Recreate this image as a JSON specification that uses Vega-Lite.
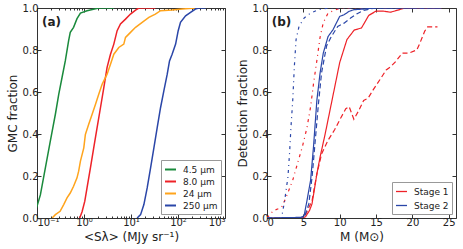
{
  "$schema": "https://vega.github.io/schema/vega-lite/v6.json",
  "padding": {"left": 5, "top": 2, "right": 5, "bottom": 2},
  "spacing": 42,
  "bounds": "flush",
  "resolve": {"scale": {"color": "independent", "strokeDash": "independent"}, "legend": {"color": "independent", "strokeDash": "independent"}},
  "config": {
    "font": "DejaVu Sans",
    "view": {"stroke": "#333", "strokeWidth": 1},
    "axis": {"domain": false, "grid": false, "tickColor": "#333", "tickSize": -4, "labelFontSize": 10, "labelColor": "#222", "titleFontSize": 12, "titleFontWeight": "normal", "titleColor": "#222", "labelPadding": 3},
    "legend": {"orient": "bottom-right", "offset": 4, "strokeColor": "#999", "fillColor": "white", "padding": 3, "symbolType": "stroke", "symbolSize": 121, "symbolStrokeWidth": 2, "labelFontSize": 9, "rowPadding": 0, "cornerRadius": 0, "labelColor": "#222", "labelOffset": 6},
    "text": {"font": "DejaVu Sans"}
  },
  "hconcat": [
    {
      "width": 188,
      "height": 210,
      "data": {"values": [
        {"b":"4.5 μm","s":0.09,"f":0.03},{"b":"4.5 μm","s":0.1,"f":0.056},{"b":"4.5 μm","s":0.118,"f":0.11},{"b":"4.5 μm","s":0.151,"f":0.24},{"b":"4.5 μm","s":0.192,"f":0.366},{"b":"4.5 μm","s":0.246,"f":0.494},{"b":"4.5 μm","s":0.29,"f":0.589},{"b":"4.5 μm","s":0.341,"f":0.669},{"b":"4.5 μm","s":0.40,"f":0.748},{"b":"4.5 μm","s":0.47,"f":0.844},{"b":"4.5 μm","s":0.51,"f":0.884},{"b":"4.5 μm","s":0.60,"f":0.908},{"b":"4.5 μm","s":0.71,"f":0.949},{"b":"4.5 μm","s":0.84,"f":0.976},{"b":"4.5 μm","s":1.16,"f":0.987},{"b":"4.5 μm","s":2.06,"f":1.0},{"b":"4.5 μm","s":4.3,"f":1.0},
        {"b":"8.0 μm","s":0.81,"f":0},{"b":"8.0 μm","s":0.91,"f":0.03},{"b":"8.0 μm","s":1.04,"f":0.08},{"b":"8.0 μm","s":1.16,"f":0.143},{"b":"8.0 μm","s":1.37,"f":0.239},{"b":"8.0 μm","s":1.61,"f":0.334},{"b":"8.0 μm","s":1.90,"f":0.43},{"b":"8.0 μm","s":2.24,"f":0.525},{"b":"8.0 μm","s":2.64,"f":0.621},{"b":"8.0 μm","s":3.10,"f":0.717},{"b":"8.0 μm","s":3.66,"f":0.78},{"b":"8.0 μm","s":4.31,"f":0.828},{"b":"8.0 μm","s":5.07,"f":0.892},{"b":"8.0 μm","s":5.97,"f":0.924},{"b":"8.0 μm","s":7.64,"f":0.947},{"b":"8.0 μm","s":9.76,"f":0.971},{"b":"8.0 μm","s":12.5,"f":0.99},{"b":"8.0 μm","s":14.7,"f":1.0},{"b":"8.0 μm","s":33,"f":1.0},
        {"b":"24 μm","s":0.21,"f":0},{"b":"24 μm","s":0.246,"f":0.016},{"b":"24 μm","s":0.31,"f":0.032},{"b":"24 μm","s":0.37,"f":0.064},{"b":"24 μm","s":0.435,"f":0.096},{"b":"24 μm","s":0.51,"f":0.119},{"b":"24 μm","s":0.60,"f":0.151},{"b":"24 μm","s":0.71,"f":0.191},{"b":"24 μm","s":0.77,"f":0.223},{"b":"24 μm","s":0.84,"f":0.271},{"b":"24 μm","s":0.99,"f":0.334},{"b":"24 μm","s":1.07,"f":0.398},{"b":"24 μm","s":1.26,"f":0.446},{"b":"24 μm","s":1.49,"f":0.494},{"b":"24 μm","s":1.75,"f":0.541},{"b":"24 μm","s":2.06,"f":0.589},{"b":"24 μm","s":2.43,"f":0.637},{"b":"24 μm","s":3.10,"f":0.685},{"b":"24 μm","s":3.66,"f":0.732},{"b":"24 μm","s":4.31,"f":0.78},{"b":"24 μm","s":5.5,"f":0.812},{"b":"24 μm","s":7.03,"f":0.828},{"b":"24 μm","s":7.64,"f":0.86},{"b":"24 μm","s":9.76,"f":0.884},{"b":"24 μm","s":12.5,"f":0.908},{"b":"24 μm","s":17.3,"f":0.932},{"b":"24 μm","s":24,"f":0.955},{"b":"24 μm","s":33,"f":0.971},{"b":"24 μm","s":42.5,"f":0.987},{"b":"24 μm","s":75,"f":0.99},{"b":"24 μm","s":123,"f":0.995},{"b":"24 μm","s":235,"f":1.0},
        {"b":"250 μm","s":13.5,"f":0},{"b":"250 μm","s":16,"f":0.016},{"b":"250 μm","s":18.8,"f":0.064},{"b":"250 μm","s":22.1,"f":0.143},{"b":"250 μm","s":26.1,"f":0.239},{"b":"250 μm","s":30.7,"f":0.334},{"b":"250 μm","s":36.1,"f":0.43},{"b":"250 μm","s":42.5,"f":0.525},{"b":"250 μm","s":50,"f":0.605},{"b":"250 μm","s":59,"f":0.685},{"b":"250 μm","s":66,"f":0.748},{"b":"250 μm","s":75,"f":0.78},{"b":"250 μm","s":89,"f":0.828},{"b":"250 μm","s":101,"f":0.892},{"b":"250 μm","s":113,"f":0.932},{"b":"250 μm","s":145,"f":0.963},{"b":"250 μm","s":185,"f":0.979},{"b":"250 μm","s":235,"f":0.995},{"b":"250 μm","s":278,"f":1.0},{"b":"250 μm","s":386,"f":1.0}
      ]},
      "layer": [
        {
          "mark": {"type": "line", "strokeWidth": 1.5, "clip": true},
          "encoding": {
            "x": {"field": "s", "type": "quantitative", "scale": {"type": "log", "domain": [0.1, 1000]},
              "axis": {"values": [0.1,0.2,0.3,0.4,0.5,0.6,0.7,0.8,0.9,1,2,3,4,5,6,7,8,9,10,20,30,40,50,60,70,80,90,100,200,300,400,500,600,700,800,900,1000],
                "labelExpr": "datum.value == 0.1 ? '10⁻¹' : datum.value == 1 ? '10⁰' : datum.value == 10 ? '10¹' : datum.value == 100 ? '10²' : datum.value == 1000 ? '10³' : ''",
                "tickSize": {"condition": {"test": "indexof([0.1,1,10,100,1000], datum.value) >= 0", "value": -4}, "value": -2},
                "title": "<Sλ> (MJy sr⁻¹)"}},
            "y": {"field": "f", "type": "quantitative", "scale": {"domain": [0, 1]},
              "axis": {"values": [0,0.2,0.4,0.6,0.8,1], "format": ".1f", "title": "GMC fraction", "titlePadding": 3}},
            "color": {"field": "b", "type": "nominal", "scale": {"domain": ["4.5 μm","8.0 μm","24 μm","250 μm"], "range": ["#1a8a3c","#ee2228","#ffa41c","#2a46a8"]}, "legend": {"title": null}}
          }
        },
        {
          "mark": {"type": "line", "opacity": 0},
          "encoding": {
            "x": {"field": "s", "type": "quantitative", "scale": {"type": "log", "domain": [0.1, 1000]},
              "axis": {"orient": "top", "labels": false, "title": null, "values": [0.1,0.2,0.3,0.4,0.5,0.6,0.7,0.8,0.9,1,2,3,4,5,6,7,8,9,10,20,30,40,50,60,70,80,90,100,200,300,400,500,600,700,800,900,1000],
                "tickSize": {"condition": {"test": "indexof([0.1,1,10,100,1000], datum.value) >= 0", "value": -4}, "value": -2}}},
            "y": {"field": "f", "type": "quantitative", "axis": {"orient": "right", "labels": false, "title": null, "values": [0,0.2,0.4,0.6,0.8,1]}}
          }
        },
        {
          "data": {"values": [{"lx": 0.128, "ly": 0.935, "t": "(a)"}]},
          "mark": {"type": "text", "fontWeight": "bold", "fontSize": 12, "align": "left", "baseline": "middle", "color": "#222"},
          "encoding": {
            "x": {"field": "lx", "type": "quantitative", "axis": null},
            "y": {"field": "ly", "type": "quantitative", "axis": null},
            "text": {"field": "t"}
          }
        }
      ],
      "resolve": {"axis": {"x": "independent", "y": "independent"}}
    },
    {
      "width": 189,
      "height": 210,
      "data": {"values": [
        {"g":"Stage 1","d":"solid","m":0,"f":0},{"g":"Stage 1","d":"solid","m":4.9,"f":0},{"g":"Stage 1","d":"solid","m":5.3,"f":0.006},{"g":"Stage 1","d":"solid","m":5.84,"f":0.035},{"g":"Stage 1","d":"solid","m":6.19,"f":0.067},{"g":"Stage 1","d":"solid","m":6.42,"f":0.115},{"g":"Stage 1","d":"solid","m":6.86,"f":0.21},{"g":"Stage 1","d":"solid","m":7.3,"f":0.29},{"g":"Stage 1","d":"solid","m":8,"f":0.40},{"g":"Stage 1","d":"solid","m":9,"f":0.57},{"g":"Stage 1","d":"solid","m":10,"f":0.74},{"g":"Stage 1","d":"solid","m":11,"f":0.85},{"g":"Stage 1","d":"solid","m":12,"f":0.895},{"g":"Stage 1","d":"solid","m":13,"f":0.905},{"g":"Stage 1","d":"solid","m":14,"f":0.965},{"g":"Stage 1","d":"solid","m":15,"f":0.985},{"g":"Stage 1","d":"solid","m":16,"f":0.985},{"g":"Stage 1","d":"solid","m":17,"f":0.98},{"g":"Stage 1","d":"solid","m":18,"f":0.99},{"g":"Stage 1","d":"solid","m":19,"f":1.0},{"g":"Stage 1","d":"solid","m":24,"f":1.0},
        {"g":"Stage 1","d":"dashed","m":0,"f":0},{"g":"Stage 1","d":"dashed","m":5.1,"f":0},{"g":"Stage 1","d":"dashed","m":6.2,"f":0.083},{"g":"Stage 1","d":"dashed","m":6.86,"f":0.21},{"g":"Stage 1","d":"dashed","m":7.52,"f":0.306},{"g":"Stage 1","d":"dashed","m":8.4,"f":0.37},{"g":"Stage 1","d":"dashed","m":9.3,"f":0.42},{"g":"Stage 1","d":"dashed","m":10.2,"f":0.48},{"g":"Stage 1","d":"dashed","m":10.84,"f":0.52},{"g":"Stage 1","d":"dashed","m":11.3,"f":0.53},{"g":"Stage 1","d":"dashed","m":11.95,"f":0.47},{"g":"Stage 1","d":"dashed","m":12.6,"f":0.51},{"g":"Stage 1","d":"dashed","m":13.3,"f":0.56},{"g":"Stage 1","d":"dashed","m":13.9,"f":0.57},{"g":"Stage 1","d":"dashed","m":14.6,"f":0.61},{"g":"Stage 1","d":"dashed","m":15.5,"f":0.657},{"g":"Stage 1","d":"dashed","m":16.4,"f":0.705},{"g":"Stage 1","d":"dashed","m":17,"f":0.72},{"g":"Stage 1","d":"dashed","m":17.7,"f":0.745},{"g":"Stage 1","d":"dashed","m":18.6,"f":0.785},{"g":"Stage 1","d":"dashed","m":19.5,"f":0.785},{"g":"Stage 1","d":"dashed","m":20.6,"f":0.80},{"g":"Stage 1","d":"dashed","m":21,"f":0.83},{"g":"Stage 1","d":"dashed","m":21.7,"f":0.89},{"g":"Stage 1","d":"dashed","m":22.1,"f":0.91},{"g":"Stage 1","d":"dashed","m":23.45,"f":0.91},
        {"g":"Stage 1","d":"dashdot","m":0,"f":0},{"g":"Stage 1","d":"dashdot","m":0.88,"f":0.035},{"g":"Stage 1","d":"dashdot","m":2,"f":0.05},{"g":"Stage 1","d":"dashdot","m":2.65,"f":0.1},{"g":"Stage 1","d":"dashdot","m":3.54,"f":0.18},{"g":"Stage 1","d":"dashdot","m":4.2,"f":0.26},{"g":"Stage 1","d":"dashdot","m":4.87,"f":0.34},{"g":"Stage 1","d":"dashdot","m":5.5,"f":0.43},{"g":"Stage 1","d":"dashdot","m":6,"f":0.53},{"g":"Stage 1","d":"dashdot","m":6.4,"f":0.64},{"g":"Stage 1","d":"dashdot","m":6.86,"f":0.75},{"g":"Stage 1","d":"dashdot","m":7.3,"f":0.86},{"g":"Stage 1","d":"dashdot","m":7.74,"f":0.93},{"g":"Stage 1","d":"dashdot","m":8.4,"f":0.976},{"g":"Stage 1","d":"dashdot","m":9.3,"f":0.99},{"g":"Stage 1","d":"dashdot","m":10.2,"f":1.0},{"g":"Stage 1","d":"dashdot","m":24,"f":1.0},
        {"g":"Stage 2","d":"solid","m":0,"f":0},{"g":"Stage 2","d":"solid","m":4.65,"f":0.003},{"g":"Stage 2","d":"solid","m":5.1,"f":0.01},{"g":"Stage 2","d":"solid","m":5.5,"f":0.083},{"g":"Stage 2","d":"solid","m":6,"f":0.18},{"g":"Stage 2","d":"solid","m":6.4,"f":0.34},{"g":"Stage 2","d":"solid","m":6.86,"f":0.56},{"g":"Stage 2","d":"solid","m":7.3,"f":0.69},{"g":"Stage 2","d":"solid","m":7.74,"f":0.785},{"g":"Stage 2","d":"solid","m":8.4,"f":0.864},{"g":"Stage 2","d":"solid","m":9.07,"f":0.896},{"g":"Stage 2","d":"solid","m":10,"f":0.96},{"g":"Stage 2","d":"solid","m":10.6,"f":0.968},{"g":"Stage 2","d":"solid","m":11.3,"f":0.984},{"g":"Stage 2","d":"solid","m":11.95,"f":0.992},{"g":"Stage 2","d":"solid","m":13.3,"f":0.995},{"g":"Stage 2","d":"solid","m":14.6,"f":1.0},{"g":"Stage 2","d":"solid","m":24,"f":1.0},
        {"g":"Stage 2","d":"dashed","m":0,"f":0},{"g":"Stage 2","d":"dashed","m":5.1,"f":0},{"g":"Stage 2","d":"dashed","m":5.75,"f":0.067},{"g":"Stage 2","d":"dashed","m":6.2,"f":0.195},{"g":"Stage 2","d":"dashed","m":6.64,"f":0.37},{"g":"Stage 2","d":"dashed","m":7.08,"f":0.545},{"g":"Stage 2","d":"dashed","m":7.5,"f":0.69},{"g":"Stage 2","d":"dashed","m":8.2,"f":0.82},{"g":"Stage 2","d":"dashed","m":8.85,"f":0.864},{"g":"Stage 2","d":"dashed","m":9.73,"f":0.912},{"g":"Stage 2","d":"dashed","m":10.6,"f":0.928},{"g":"Stage 2","d":"dashed","m":11.5,"f":0.952},{"g":"Stage 2","d":"dashed","m":12.4,"f":0.973},{"g":"Stage 2","d":"dashed","m":13.3,"f":0.989},{"g":"Stage 2","d":"dashed","m":14.4,"f":0.997},{"g":"Stage 2","d":"dashed","m":15,"f":1.0},{"g":"Stage 2","d":"dashed","m":24,"f":1.0},
        {"g":"Stage 2","d":"dashdot","m":0,"f":0},{"g":"Stage 2","d":"dashdot","m":2,"f":0},{"g":"Stage 2","d":"dashdot","m":2.43,"f":0.083},{"g":"Stage 2","d":"dashdot","m":2.88,"f":0.195},{"g":"Stage 2","d":"dashdot","m":3.1,"f":0.306},{"g":"Stage 2","d":"dashdot","m":3.3,"f":0.434},{"g":"Stage 2","d":"dashdot","m":3.54,"f":0.56},{"g":"Stage 2","d":"dashdot","m":3.76,"f":0.72},{"g":"Stage 2","d":"dashdot","m":4,"f":0.85},{"g":"Stage 2","d":"dashdot","m":4.4,"f":0.912},{"g":"Stage 2","d":"dashdot","m":5.1,"f":0.952},{"g":"Stage 2","d":"dashdot","m":6,"f":0.976},{"g":"Stage 2","d":"dashdot","m":7.1,"f":0.992},{"g":"Stage 2","d":"dashdot","m":8.4,"f":1.0},{"g":"Stage 2","d":"dashdot","m":24,"f":1.0}
      ]},
      "layer": [
        {
          "mark": {"type": "line", "strokeWidth": 1.2, "clip": true},
          "encoding": {
            "x": {"field": "m", "type": "quantitative", "scale": {"domain": [0, 25]},
              "axis": {"values": [0,5,10,15,20,25], "title": "M (M⊙)"}},
            "y": {"field": "f", "type": "quantitative", "scale": {"domain": [0, 1]},
              "axis": {"values": [0,0.2,0.4,0.6,0.8,1], "format": ".1f", "title": "Detection fraction", "titlePadding": 3}},
            "color": {"field": "g", "type": "nominal", "scale": {"domain": ["Stage 1","Stage 2"], "range": ["#ee2228","#2a46a8"]}, "legend": {"title": null, "labelFontSize": 9, "symbolStrokeWidth": 1.3, "rowPadding": 2, "padding": 3}},
            "strokeDash": {"field": "d", "type": "nominal", "scale": {"domain": ["solid","dashed","dashdot"], "range": [[1,0],[5,3],[3,4,1,4]]}, "legend": null}
          }
        },
        {
          "mark": {"type": "line", "opacity": 0},
          "encoding": {
            "x": {"field": "m", "type": "quantitative", "axis": {"orient": "top", "labels": false, "title": null, "values": [0,5,10,15,20,25]}},
            "y": {"field": "f", "type": "quantitative", "axis": {"orient": "right", "labels": false, "title": null, "values": [0,0.2,0.4,0.6,0.8,1]}}
          }
        },
        {
          "data": {"values": [{"lx": 0.66, "ly": 0.935, "t": "(b)"}]},
          "mark": {"type": "text", "fontWeight": "bold", "fontSize": 12, "align": "left", "baseline": "middle", "color": "#222"},
          "encoding": {
            "x": {"field": "lx", "type": "quantitative", "axis": null},
            "y": {"field": "ly", "type": "quantitative", "axis": null},
            "text": {"field": "t"}
          }
        }
      ],
      "resolve": {"axis": {"x": "independent", "y": "independent"}}
    }
  ]
}
